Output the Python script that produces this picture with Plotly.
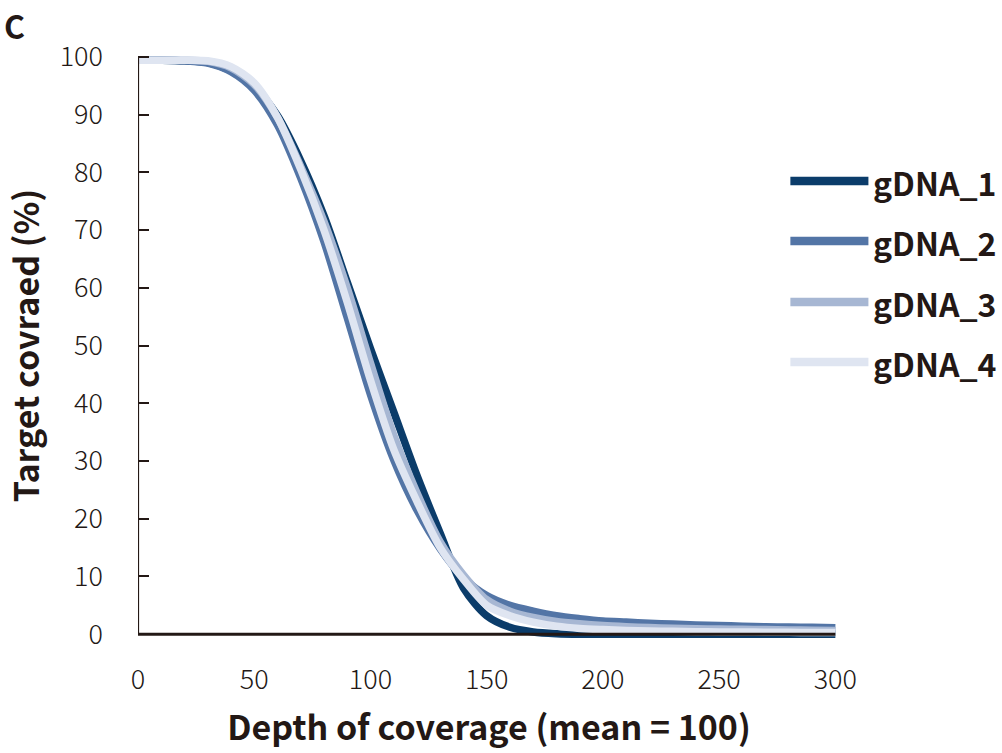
import plotly.graph_objects as go

# ---- data ----
depth = [0, 10, 20, 30, 40, 50, 60, 70, 80, 90, 100, 110, 120, 130, 140, 150,
         160, 170, 180, 190, 200, 210, 220, 230, 240, 250, 260, 270, 280, 290, 300]

gdna_1 = [99.4, 99.4, 99.3, 99.0, 97.6, 94.8, 89.8, 82.0, 72.5, 61.0, 49.5, 38.5, 27.5, 17.5, 8.0, 3.2,
          1.2, 0.4, 0.1, 0.0, 0.0, 0.0, 0.0, 0.0, 0.0, 0.0, 0.0, 0.0, 0.0, 0.0, 0.0]
gdna_2 = [99.4, 99.4, 99.3, 98.9, 97.4, 94.2, 88.2, 79.0, 68.0, 54.8, 41.5, 30.2, 21.5, 14.8, 9.8, 6.7,
          5.0, 4.0, 3.2, 2.7, 2.3, 2.1, 1.9, 1.75, 1.6, 1.5, 1.4, 1.3, 1.25, 1.2, 1.1]
gdna_3 = [99.4, 99.4, 99.4, 99.2, 98.1, 95.2, 89.5, 81.0, 71.5, 60.0, 47.0, 34.5, 24.5, 16.0, 10.3, 6.0,
          4.0, 2.9, 2.2, 1.8, 1.5, 1.3, 1.15, 1.05, 0.95, 0.9, 0.85, 0.8, 0.75, 0.7, 0.65]
gdna_4 = [99.4, 99.4, 99.4, 99.3, 98.3, 95.5, 89.5, 80.5, 70.0, 57.5, 44.0, 32.0, 23.0, 15.0, 9.5, 5.0,
          3.2, 2.1, 1.4, 1.0, 0.8, 0.65, 0.55, 0.5, 0.45, 0.4, 0.38, 0.35, 0.33, 0.3, 0.3]

series_names = ["gDNA_1", "gDNA_2", "gDNA_3", "gDNA_4"]
series_values = [gdna_1, gdna_2, gdna_3, gdna_4]
series_colors = ["#0b3c6a", "#5375a6", "#a7b7d3", "#dfe5f1"]

x_ticks = [0, 50, 100, 150, 200, 250, 300]
y_ticks = [0, 10, 20, 30, 40, 50, 60, 70, 80, 90, 100]

TEXT = "#231815"
FONT = "Noto Sans CJK JP"

# ---- layout geometry (pixels) ----
W, H = 1002, 753
L, R = 138, 162.4
T, B = 51.2, 113.2
pw = W - L - R
ph = H - T - B


def px_x(p):
    return (p - L) / pw


def px_y(q):
    return (H - B - q) / ph


fig = go.Figure()
for name, vals, col in zip(series_names, series_values, series_colors):
    fig.add_trace(go.Scatter(
        x=depth, y=vals, mode="lines", name=name,
        line=dict(color=col, width=7.5, shape="spline", smoothing=0.8),
        showlegend=False,
    ))

shapes = [
    dict(type="line", xref="x", yref="y", x0=0, x1=0, y0=0, y1=100,
         line=dict(color=TEXT, width=2.2), layer="above"),
    dict(type="line", xref="x", yref="y", x0=0, x1=300, y0=0, y1=0,
         line=dict(color=TEXT, width=3), layer="above"),
]

annotations = [
    dict(text="<b>C</b>", x=px_x(2), y=px_y(0), xref="paper", yref="paper",
         xanchor="left", yanchor="top", showarrow=False,
         font=dict(family=FONT, size=32, color=TEXT)),
]

legend_rows = [181, 241, 302, 362]
for name, col, row in zip(series_names, series_colors, legend_rows):
    shapes.append(dict(type="line", xref="paper", yref="paper",
                       x0=px_x(790), x1=px_x(868), y0=px_y(row), y1=px_y(row),
                       line=dict(color=col, width=8.5)))
    annotations.append(dict(text="<b>%s</b>" % name, x=px_x(871), y=px_y(row + 1),
                            xref="paper", yref="paper", xanchor="left", yanchor="middle",
                            showarrow=False,
                            font=dict(family=FONT, size=32, color=TEXT)))

fig.update_layout(
    width=W, height=H,
    margin=dict(l=L, r=R, t=T, b=B, pad=0, autoexpand=False),
    paper_bgcolor="white", plot_bgcolor="white",
    font=dict(family=FONT, color=TEXT),
    shapes=shapes, annotations=annotations,
    xaxis=dict(
        range=[0, 302], tickvals=x_ticks, ticks="", showline=False,
        showgrid=False, zeroline=False, automargin=False,
        tickfont=dict(family=FONT, size=27, color=TEXT, weight=300),
        ticklabelstandoff=21,
        title=dict(text="<b>Depth of coverage (mean = 100)</b>", standoff=20,
                   font=dict(family=FONT, size=34, color=TEXT)),
    ),
    yaxis=dict(
        range=[-1, 101], tickvals=y_ticks, ticks="inside", ticklen=11,
        tickwidth=2, tickcolor=TEXT, showline=False,
        showgrid=False, zeroline=False, automargin=False,
        tickfont=dict(family=FONT, size=27, color=TEXT, weight=300),
        ticklabelstandoff=34,
        title=dict(text="<b>Target covraed (%)</b>", standoff=27,
                   font=dict(family=FONT, size=34, color=TEXT)),
    ),
)

fig.write_html(
    "out.html",
    config={"displayModeBar": False},
    post_script="document.body.style.margin='0';document.body.style.padding='0';",
)
